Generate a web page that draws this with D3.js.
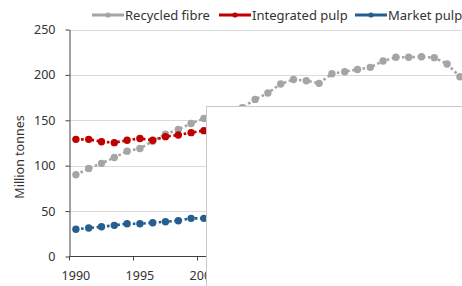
<!DOCTYPE html>
<html>
<head>
<meta charset="utf-8">
<script src="https://cdn.jsdelivr.net/npm/d3@7"></script>
<style>
  body { margin: 0; background: #fff; }
  svg { display: block; font-family: "Noto Sans", sans-serif; }
</style>
</head>
<body>
<script>
// data (million tonnes)
const years = d3.range(1990, 2021);
const recycledFibre = [90, 97, 102.6, 109, 116, 119, 127, 134.6, 140, 146.5, 152,
    157, 161, 164, 173, 180, 190, 195, 193.6, 190.7, 201.3, 203.5, 206, 208.3,
    215.3, 219.4, 219.4, 220, 219, 212, 198];
const integratedPulp = [129, 129, 126.4, 125.4, 128, 130, 128, 132, 133.8, 136.4, 138.6];
const marketPulp = [30, 31.4, 32.8, 34.3, 36.1, 36.1, 37.2, 38.3, 39.4, 42, 42];
const yTicks = [0, 50, 100, 150, 200, 250];
const xLabelYears = [1990, 1995, 2000, 2005, 2010, 2015];

const series = [
    {name: "Recycled fibre", values: recycledFibre, color: "#a5a5a5", lx: 92},
    {name: "Integrated pulp", values: integratedPulp, color: "#c00000", lx: 219},
    {name: "Market pulp", values: marketPulp, color: "#255e91", lx: 355}
];

const width = 462, height = 286;
const plotLeft = 69.5, plotTop = 29.5, plotBottom = 256.5;
const step = 12.8;

const svg = d3.select("body")
    .append("svg")
    .attr("width", width)
    .attr("height", height);

const x = d3.scaleBand()
    .domain(years)
    .range([plotLeft, plotLeft + step * years.length]);
const y = d3.scaleLinear()
    .domain([0, 250])
    .range([plotBottom, plotTop]);

// gridlines
svg.append("g")
    .selectAll("line")
    .data(yTicks.filter(d => d > 0))
    .join("line")
    .attr("x1", plotLeft)
    .attr("x2", width)
    .attr("y1", d => Math.round(y(d)) + 0.5)
    .attr("y2", d => Math.round(y(d)) + 0.5)
    .attr("stroke", "#d9d9d9");

// y axis
const yAxis = svg.append("g")
    .attr("transform", `translate(${plotLeft},0)`)
    .call(d3.axisLeft(y).tickValues(yTicks).tickSize(4).tickSizeOuter(0).tickPadding(10));
yAxis.select(".domain").attr("stroke", "#404040");
yAxis.selectAll(".tick line").attr("stroke", "#404040");
yAxis.selectAll("text")
    .attr("fill", "#333")
    .style("font-size", "12.5px")
    .style("font-family", "Noto Sans, sans-serif");

// x axis (category axis, ticks between categories)
const xAxis = svg.append("g");
xAxis.append("line")
    .attr("x1", plotLeft).attr("x2", width)
    .attr("y1", plotBottom).attr("y2", plotBottom)
    .attr("stroke", "#404040");
xAxis.selectAll(".xt")
    .data(xLabelYears)
    .join("line")
    .attr("class", "xt")
    .attr("x1", d => x(d)).attr("x2", d => x(d))
    .attr("y1", plotBottom).attr("y2", plotBottom + 4)
    .attr("stroke", "#404040");
xAxis.selectAll("text")
    .data(xLabelYears)
    .join("text")
    .attr("x", d => x(d) + x.bandwidth() / 2)
    .attr("y", 280)
    .attr("text-anchor", "middle")
    .attr("fill", "#333")
    .style("font-size", "12.5px")
    .text(d => d);

// axis title
svg.append("text")
    .attr("transform", "translate(24,157) rotate(-90)")
    .attr("text-anchor", "middle")
    .attr("fill", "#333")
    .style("font-size", "12.5px")
    .text("Million tonnes");

// lines + markers
const line = d3.line()
    .x((d, i) => x(years[i]) + x.bandwidth() / 2)
    .y(d => y(d));

series.forEach(s => {
    const g = svg.append("g");
    g.append("path")
        .datum(s.values)
        .attr("fill", "none")
        .attr("stroke", s.color)
        .attr("stroke-width", 2.6)
        .attr("stroke-dasharray", "2.6,2.6")
        .attr("d", line);
    g.selectAll("circle")
        .data(s.values)
        .join("circle")
        .attr("cx", (d, i) => x(years[i]) + x.bandwidth() / 2)
        .attr("cy", d => y(d))
        .attr("r", 3.7)
        .attr("fill", s.color);
});

// white box laid over the lower right
svg.append("rect")
    .attr("x", 206.5)
    .attr("y", 106.5)
    .attr("width", 300)
    .attr("height", 200)
    .attr("fill", "#fff")
    .attr("stroke", "#c8c8c8");

// legend
const legend = svg.append("g")
    .selectAll("g")
    .data(series)
    .join("g")
    .attr("transform", d => `translate(${d.lx},15)`);
legend.append("line")
    .attr("x1", 0).attr("x2", 32)
    .attr("stroke", d => d.color)
    .attr("stroke-width", 3);
legend.append("circle")
    .attr("cx", 16)
    .attr("r", 2.6)
    .attr("fill", d => d.color);
legend.append("text")
    .attr("x", 33)
    .attr("dy", "0.35em")
    .attr("fill", "#333")
    .style("font-size", "13px")
    .text(d => d.name);
</script>
</body>
</html>
